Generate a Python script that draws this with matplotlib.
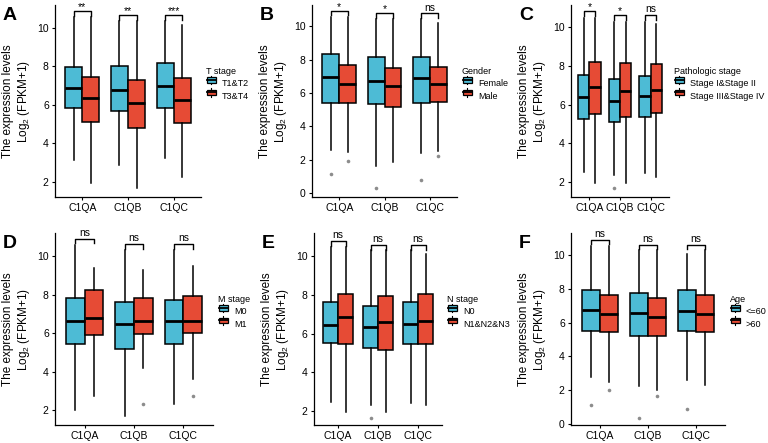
import matplotlib
matplotlib.use("Agg")
import matplotlib.pyplot as plt
from matplotlib.legend_handler import HandlerBase
from matplotlib.lines import Line2D
from matplotlib.patches import Rectangle, Patch

plt.rcParams['font.family'] = ['Liberation Sans', 'DejaVu Sans']

genes = ["C1QA", "C1QB", "C1QC"]
col_lo = "#4DBBD5"
col_hi = "#E64B35"

# box stats per gene: [whisker low, q1, median, q3, whisker high]
titles = ["T stage", "Gender", "Pathologic stage", "M stage", "N stage", "Age"]
groups = [["T1&T2", "T3&T4"], ["Female", "Male"],
          ["Stage I&Stage II", "Stage III&Stage IV"], ["M0", "M1"],
          ["N0", "N1&N2&N3"], ["<=60", ">60"]]

stats_A1 = [[3.13, 5.81, 6.85, 7.97, 10.55], [2.85, 5.67, 6.76, 8.01, 10.35], [3.25, 5.84, 6.97, 8.15, 10.35]]
stats_A2 = [[1.95, 5.12, 6.36, 7.45, 10.55], [1.66, 4.77, 6.07, 7.28, 10.35], [2.26, 5.07, 6.24, 7.37, 10.15]]
stats_B1 = [[2.6, 5.42, 6.93, 8.33, 10.55], [1.63, 5.32, 6.71, 8.17, 10.4], [2.39, 5.38, 6.91, 8.13, 10.4]]
stats_B2 = [[2.49, 5.42, 6.53, 7.67, 10.55], [1.89, 5.14, 6.43, 7.47, 10.4], [2.55, 5.45, 6.51, 7.57, 10.2]]
stats_C1 = [[2.52, 5.25, 6.4, 7.53, 10.5], [2.35, 5.11, 6.2, 7.31, 10.3], [2.44, 5.34, 6.46, 7.48, 10.3]]
stats_C2 = [[1.95, 5.49, 6.89, 8.22, 10.5], [1.95, 5.34, 6.72, 8.13, 10.3], [2.26, 5.54, 6.75, 8.1, 10.2]]
stats_D1 = [[2.0, 5.46, 6.63, 7.84, 10.6], [1.71, 5.2, 6.51, 7.62, 10.35], [2.31, 5.46, 6.63, 7.75, 10.35]]
stats_D2 = [[2.75, 5.91, 6.8, 8.27, 9.4], [4.21, 5.94, 6.63, 7.81, 9.31], [3.61, 6.03, 6.66, 7.93, 9.48]]
stats_E1 = [[2.48, 5.52, 6.44, 7.64, 10.5], [2.31, 5.27, 6.35, 7.42, 10.3], [2.43, 5.46, 6.49, 7.64, 10.3]]
stats_E2 = [[1.96, 5.46, 6.87, 8.07, 10.5], [1.96, 5.18, 6.61, 7.93, 10.3], [2.31, 5.49, 6.66, 8.07, 10.14]]
stats_F1 = [[2.77, 5.49, 6.73, 7.92, 10.55], [2.22, 5.19, 6.59, 7.78, 10.3], [2.61, 5.49, 6.69, 7.92, 10.1]]
stats_F2 = [[2.48, 5.45, 6.53, 7.66, 10.55], [2.0, 5.19, 6.34, 7.47, 10.3], [2.28, 5.45, 6.53, 7.66, 10.3]]

fliers_A1 = [[], [], []]
fliers_A2 = [[], [], []]
fliers_B1 = [[1.14], [0.34], [0.8]]
fliers_B2 = [[1.95], [], [2.25]]
fliers_C1 = [[], [1.66], []]
fliers_C2 = [[], [], []]
fliers_D1 = [[], [], []]
fliers_D2 = [[], [2.35], [2.75]]
fliers_E1 = [[], [1.65], []]
fliers_E2 = [[], [], []]
fliers_F1 = [[1.13], [0.36], [0.85]]
fliers_F2 = [[1.98], [1.64], []]

bracket_y = [[10.87, 10.66, 10.66], [10.9, 10.76, 10.76], [10.84, 10.64, 10.64],
             [10.92, 10.64, 10.64], [10.77, 10.57, 10.57], [10.89, 10.63, 10.63]]
sig = [["**", "**", "***"], ["*", "*", "ns"], ["*", "*", "ns"],
       ["ns", "ns", "ns"], ["ns", "ns", "ns"], ["ns", "ns", "ns"]]

ylims = [(1.21, 11.18), (-0.22, 11.26), (1.21, 11.16), (1.24, 11.21), (1.29, 11.2), (-0.08, 11.32)]
yticks = [[2, 4, 6, 8, 10], [0, 2, 4, 6, 8, 10], [2, 4, 6, 8, 10],
          [2, 4, 6, 8, 10], [2, 4, 6, 8, 10], [0, 2, 4, 6, 8, 10]]
letters = ["A", "B", "C", "D", "E", "F"]

all_stats = [(stats_A1, stats_A2), (stats_B1, stats_B2), (stats_C1, stats_C2),
             (stats_D1, stats_D2), (stats_E1, stats_E2), (stats_F1, stats_F2)]
all_fliers = [(fliers_A1, fliers_A2), (fliers_B1, fliers_B2), (fliers_C1, fliers_C2),
              (fliers_D1, fliers_D2), (fliers_E1, fliers_E2), (fliers_F1, fliers_F2)]

# axes boxes in pixels: left, right, top, bottom
W, H = 768, 443
boxes = [(55, 201, 5, 197), (312, 457, 5, 197), (571, 669, 5, 197),
         (55, 213, 233, 425), (314, 442, 233, 425), (571, 725, 233, 425)]


class BoxKey(HandlerBase):
    def create_artists(self, legend, orig, xd, yd, w, h, fontsize, trans):
        cx = xd + w / 2
        wl = Line2D([cx, cx], [yd + h * 0.02, yd + h * 0.98], color="black", lw=0.8)
        r = Rectangle((xd + w * 0.1, yd + h * 0.2), w * 0.8, h * 0.6,
                      fc=orig.get_facecolor(), ec="black", lw=0.9)
        m = Line2D([xd + w * 0.1, xd + w * 0.9], [yd + h / 2] * 2, color="black", lw=1.3)
        for a in (wl, r, m):
            a.set_transform(trans)
        return [wl, r, m]


fig = plt.figure(figsize=(W / 100, H / 100), dpi=100)
off = 0.1875
bw = 0.375

for k in range(6):
    l, r, t, b = boxes[k]
    ax = fig.add_axes([l / W, 1 - b / H, (r - l) / W, (b - t) / H])
    for g in range(2):
        st = all_stats[k][g]
        fl = all_fliers[k][g]
        bxs = []
        for i in range(3):
            lo, q1, med, q3, hi = st[i]
            bxs.append(dict(whislo=lo, q1=q1, med=med, q3=q3, whishi=hi, fliers=fl[i]))
        pos = [i + 1 + (off if g else -off) for i in range(3)]
        ax.bxp(bxs, positions=pos, widths=bw, patch_artist=True, showcaps=False,
               boxprops=dict(facecolor=col_hi if g else col_lo, edgecolor="black", lw=1.1),
               medianprops=dict(color="black", lw=2.0),
               whiskerprops=dict(color="black", lw=1.1),
               flierprops=dict(marker="o", markersize=2.6, markerfacecolor="#8c8c8c",
                               markeredgecolor="none"),
               manage_ticks=False)
    # significance brackets
    tip = 0.25
    for i in range(3):
        x1, x2 = i + 1 - off, i + 1 + off
        y = bracket_y[k][i]
        ax.plot([x1, x1, x2, x2], [y - tip, y, y, y - tip], color="black", lw=1.0)
        ax.text(i + 1, y + (0.05 if sig[k][i] == "ns" else -0.05), sig[k][i],
                ha="center", va="bottom", fontsize=7.5)
    ax.set_xlim(0.4, 3.6)
    ax.set_ylim(*ylims[k])
    ax.set_xticks([1, 2, 3])
    ax.set_xticklabels(genes)
    ax.set_yticks(yticks[k])
    ax.spines["top"].set_visible(False)
    ax.spines["right"].set_visible(False)
    ax.spines["left"].set_linewidth(0.9)
    ax.spines["bottom"].set_linewidth(0.9)
    ax.tick_params(length=2.5, width=0.8, labelsize=7.5, pad=2, colors="black")
    ax.set_ylabel("The expression levels\nLog$_{\\mathregular{2}}$ (FPKM+1)",
                  fontsize=8.5, labelpad=4, linespacing=1.1)
    handles = [Patch(facecolor=col_lo), Patch(facecolor=col_hi)]
    leg = ax.legend(handles, groups[k], title=titles[k], loc="center left",
                    bbox_to_anchor=(1.0, 0.59), frameon=False, fontsize=6.5,
                    title_fontsize=6.5, handler_map={Patch: BoxKey()},
                    handlelength=1.3, handleheight=1.2, handletextpad=0.5,
                    labelspacing=0.3, borderaxespad=0.3, borderpad=0.2)
    leg._legend_box.align = "left"
    fig.text((l - 52) / W, 1 - (t + 2) / H, letters[k], fontsize=14,
             fontweight="bold", ha="left", va="top")

fig.savefig("out.png", dpi=100)
